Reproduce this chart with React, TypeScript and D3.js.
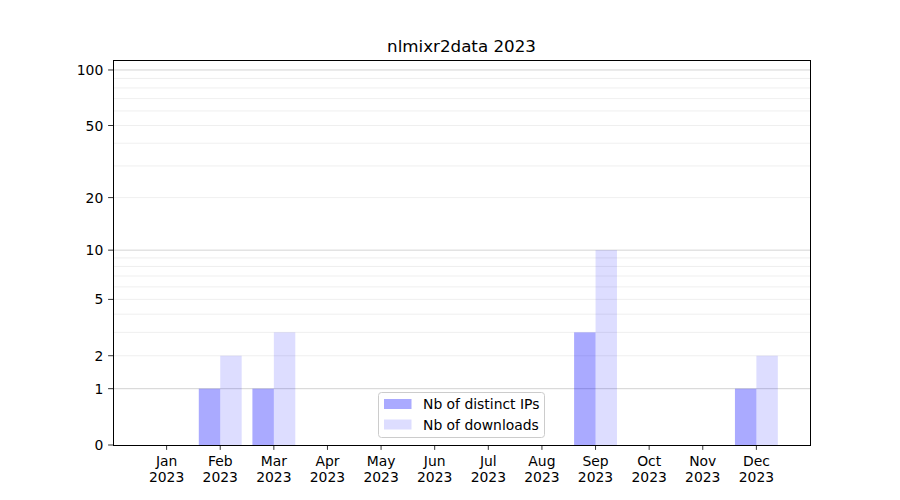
import React from "react";
import * as d3 from "d3";

const months = ["Jan", "Feb", "Mar", "Apr", "May", "Jun", "Jul", "Aug", "Sep", "Oct", "Nov", "Dec"];
const yearLabel = "2023";
const distinctIPs = [0, 1, 1, 0, 0, 0, 0, 0, 3, 0, 0, 1];
const downloads = [0, 2, 3, 0, 0, 0, 0, 0, 10, 0, 0, 2];
const yTicks = [0, 1, 2, 5, 10, 20, 50, 100];
const majorGrid = [1, 10, 100];
const minorGrid = [2, 3, 4, 5, 6, 7, 8, 9, 20, 30, 40, 50, 60, 70, 80, 90];
const title = "nlmixr2data 2023";
const seriesNames = ["Nb of distinct IPs", "Nb of downloads"];

const W = 900, H = 500;
const L = 113, R = 810, T = 60, B = 445;
const FONT = "DejaVu Sans, sans-serif";

export default function App() {
  const x = d3.scaleLinear().domain([-1, 12]).range([L, R]);
  const y = d3.scaleSymlog().constant(1).domain([0, 113.2]).range([B, T]);
  const bw = x(0.4) - x(0);
  const c1 = "#aaaaff";
  const c2 = "#ddddff";
  return (
    <svg width={W} height={H} style={{ display: "block", position: "absolute", left: 0, top: 0 }} fontFamily={FONT}>
      <rect x={0} y={0} width={W} height={H} fill="#fff" />
      {minorGrid.map((v) => (
        <line key={"m" + v} x1={L} x2={R} y1={y(v)} y2={y(v)} stroke="#ebebeb" strokeWidth={0.8} />
      ))}
      {majorGrid.map((v) => (
        <line key={"M" + v} x1={L} x2={R} y1={y(v)} y2={y(v)} stroke="#c8c8c8" strokeWidth={0.8} />
      ))}
      {distinctIPs.map((v, i) =>
        v > 0 ? (
          <rect key={"a" + i} x={x(i) - bw} y={y(v)} width={bw} height={B - y(v)} fill="#0000ff" fillOpacity={0.333} />
        ) : null
      )}
      {downloads.map((v, i) =>
        v > 0 ? (
          <rect key={"b" + i} x={x(i)} y={y(v)} width={bw} height={B - y(v)} fill="#0000ff" fillOpacity={0.133} />
        ) : null
      )}
      <rect x={L} y={T} width={R - L} height={B - T} fill="none" stroke="#000" strokeWidth={1} shapeRendering="crispEdges" />
      {yTicks.map((v) => (
        <g key={"yt" + v}>
          <line x1={L - 4.9} x2={L} y1={y(v)} y2={y(v)} stroke="#000" strokeWidth={0.8} />
          <text x={L - 9.7} y={y(v) + 5} textAnchor="end" fontSize={13.9} fill="#000">
            {v}
          </text>
        </g>
      ))}
      {months.map((m, i) => (
        <g key={"xt" + m}>
          <line x1={x(i)} x2={x(i)} y1={B} y2={B + 4.9} stroke="#000" strokeWidth={0.8} />
          <text x={x(i)} y={466} textAnchor="middle" fontSize={13.9} fill="#000">
            {m}
          </text>
          <text x={x(i)} y={482} textAnchor="middle" fontSize={13.9} fill="#000">
            {yearLabel}
          </text>
        </g>
      ))}
      <text x={(L + R) / 2} y={52} textAnchor="middle" fontSize={16.7} fill="#000">
        {title}
      </text>
      <g>
        <rect x={378.5} y={392.5} width={166} height={45} rx={3} fill="#fff" fillOpacity={0.8} stroke="#cccccc" strokeWidth={1} />
        <rect x={384} y={399} width={27.5} height={10} fill={c1} />
        <rect x={384} y={419.5} width={27.5} height={10} fill={c2} />
        <text x={423} y={409} fontSize={13.9} fill="#000">{seriesNames[0]}</text>
        <text x={423} y={430} fontSize={13.9} fill="#000">{seriesNames[1]}</text>
      </g>
    </svg>
  );
}
